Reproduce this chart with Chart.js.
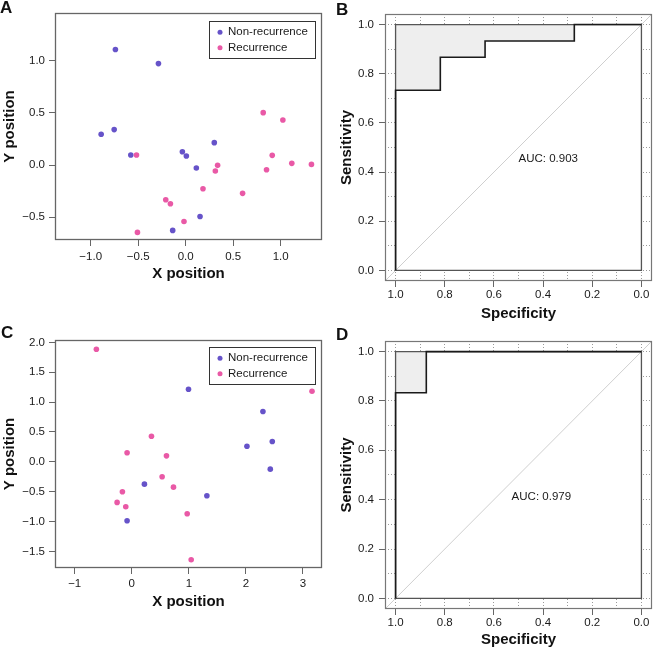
<!DOCTYPE html>
<html>
<head>
<meta charset="utf-8">
<script src="https://cdn.jsdelivr.net/npm/chart.js@4.4.1/dist/chart.umd.min.js"></script>
<style>
  body { margin: 0; background: #fff; }
  #wrap { position: relative; width: 653px; height: 649px; overflow: hidden; font-family: "Liberation Sans", Arial, sans-serif; }
  canvas { position: absolute; }
  .tag { position: absolute; font-weight: bold; font-size: 17px; line-height: 1; color: #111; }
</style>
</head>
<body>
<div id="wrap">
  <canvas id="chartA" width="330" height="325" style="left:0;top:0"></canvas>
  <canvas id="chartB" width="323" height="325" style="left:330px;top:0"></canvas>
  <canvas id="chartC" width="330" height="324" style="left:0;top:325px"></canvas>
  <canvas id="chartD" width="323" height="324" style="left:330px;top:325px"></canvas>
  <div class="tag" style="left:0;top:-1px">A</div>
  <div class="tag" style="left:336px;top:1px">B</div>
  <div class="tag" style="left:1px;top:324px">C</div>
  <div class="tag" style="left:336px;top:326px">D</div>
</div>
<script>
// panel A - MDS positions, training set
const aNonX = [-0.74, -0.287, -0.89, -0.753, -0.578, -0.035, 0.007, 0.112, 0.301, 0.151, -0.137];
const aNonY = [1.109, 0.974, 0.295, 0.34, 0.096, 0.128, 0.087, -0.029, 0.215, -0.494, -0.628];
const aRecX = [-0.518, 0.816, 1.023, 0.911, 1.117, 1.324, 0.851, 0.336, 0.312, 0.182, 0.599, -0.21, -0.161, -0.018, -0.508];
const aRecY = [0.096, 0.503, 0.433, 0.093, 0.016, 0.006, -0.045, -0.003, -0.058, -0.228, -0.272, -0.333, -0.372, -0.542, -0.647];

// panel C - MDS positions, validation set
const cNonX = [0.994, 2.298, 2.018, 2.462, 2.427, 0.222, 1.316, -0.082];
const cNonY = [1.216, 0.842, 0.262, 0.34, -0.123, -0.374, -0.569, -0.987];
const cRecX = [-0.62, 3.158, 0.345, -0.082, 0.608, 0.532, 0.731, -0.164, -0.257, -0.105, 0.971, 1.041];
const cRecY = [1.885, 1.182, 0.429, 0.151, 0.1, -0.251, -0.424, -0.502, -0.68, -0.753, -0.87, -1.64];

// ROC curves (specificity / sensitivity corners)
const bSpec = [1, 1, 0.818, 0.818, 0.636, 0.636, 0.273, 0.273, 0];
const bSens = [0, 0.733, 0.733, 0.867, 0.867, 0.933, 0.933, 1, 1];
const dSpec = [1, 1, 0.875, 0.875, 0];
const dSens = [0, 0.833, 0.833, 1, 1];
const aucB = 0.903;
const aucD = 0.979;

const groups = ["Non-recurrence", "Recurrence"];
const rocTicks = [0, 0.2, 0.4, 0.6, 0.8, 1];

const squareSpec = [1, 1, 0, 0, 1];
const squareSens = [0, 1, 1, 0, 0];
const rocMin = -0.043, rocMax = 1.043;

const blue = "#6653c9";
const pink = "#e959a6";

Chart.defaults.font.family = '"Liberation Sans", Arial, Helvetica, sans-serif';
Chart.defaults.font.size = 11.5;
Chart.defaults.color = "#1a1a1a";
Chart.defaults.animation = false;

const pts = (xs, ys) => xs.map((x, i) => ({ x, y: ys[i] }));
const minus = s => s.replace("-", "\u2212");
const fmt1 = v => minus((Math.abs(v) < 1e-9 ? 0 : v).toFixed(1));
const fmt0 = v => minus(String(Math.round(v)));

const frame = {
    id: "frame",
    afterDatasetsDraw(chart, args, opts) {
        const { left, top, right, bottom } = chart.chartArea;
        const ctx = chart.ctx;
        ctx.save();
        ctx.strokeStyle = opts.color;
        ctx.lineWidth = opts.width;
        ctx.strokeRect(left + 0.5, top + 0.5, right - left - 1, bottom - top - 1);
        ctx.restore();
    },
};

const boxLegend = {
    id: "boxLegend",
    afterDraw(chart, args, opts) {
        if (!opts.show) return;
        const ctx = chart.ctx;
        const { right, top } = chart.chartArea;
        const w = 106, h = 37;
        const x0 = right - 7 - w, y0 = top + opts.offset;
        ctx.save();
        ctx.fillStyle = "#fff";
        ctx.fillRect(x0, y0, w, h);
        ctx.strokeStyle = "#333";
        ctx.lineWidth = 1;
        ctx.strokeRect(x0 + 0.5, y0 + 0.5, w, h);
        ctx.font = '11.5px "Liberation Sans", Arial, sans-serif';
        ctx.textBaseline = "middle";
        groups.forEach((g, i) => {
            const ds = chart.data.datasets.find(d => d.label === g);
            const cy = y0 + 11.3 + i * 15.4;
            ctx.fillStyle = ds.backgroundColor;
            ctx.beginPath();
            ctx.arc(x0 + 11, cy, 2.5, 0, Math.PI * 2);
            ctx.fill();
            ctx.fillStyle = "#1a1a1a";
            ctx.fillText(g, x0 + 19, cy);
        });
        ctx.restore();
    },
};

const aucLabel = {
    id: "aucLabel",
    afterDatasetsDraw(chart, args, opts) {
        if (!opts.text) return;
        const ctx = chart.ctx;
        const { x, y } = chart.scales;
        ctx.save();
        ctx.font = '11.5px "Liberation Sans", Arial, sans-serif';
        ctx.fillStyle = "#1a1a1a";
        ctx.textBaseline = "middle";
        ctx.fillText(opts.text, x.getPixelForValue(opts.at[0]), y.getPixelForValue(opts.at[1]));
        ctx.restore();
    },
};

function layoutFor(size, area, xAxisH) {
    return {
        padding: {
            left: 0,
            top: area.t,
            right: size[0] - area.r,
            bottom: size[1] - area.b - xAxisH,
        },
    };
}

function axisTitle(text, pad) {
    return {
        display: true,
        text,
        color: "#111",
        font: { size: 15, weight: "bold" },
        padding: { top: pad, bottom: 0 },
    };
}

function scatterPanel(id, size, area, xAxisH, opt) {
    new Chart(document.getElementById(id), {
        type: "scatter",
        data: {
            datasets: [
                { label: groups[0], data: pts(opt.nonX, opt.nonY), backgroundColor: blue, pointRadius: 2.8, pointBorderWidth: 0, order: 1 },
                { label: groups[1], data: pts(opt.recX, opt.recY), backgroundColor: pink, pointRadius: 2.8, pointBorderWidth: 0, order: 0 },
            ],
        },
        options: {
            responsive: false,
            events: [],
            layout: layoutFor(size, area, xAxisH),
            plugins: {
                legend: { display: false },
                tooltip: { enabled: false },
                frame: { color: "#666", width: 1.3 },
                boxLegend: { show: true, offset: opt.legendOffset },
            },
            scales: {
                x: {
                    min: opt.xLim[0], max: opt.xLim[1],
                    afterFit: s => { s.height = xAxisH; },
                    border: { display: false },
                    grid: { drawOnChartArea: false, tickLength: 6, tickColor: "#666", tickWidth: 1 },
                    ticks: { stepSize: opt.xStep, includeBounds: false, autoSkip: false, maxRotation: 0, padding: opt.xPad, callback: opt.xFmt },
                    title: axisTitle("X position", 0),
                },
                y: {
                    min: opt.yLim[0], max: opt.yLim[1],
                    afterFit: s => { s.width = area.l; },
                    border: { display: false },
                    grid: { drawOnChartArea: false, tickLength: 6, tickColor: "#666", tickWidth: 1 },
                    ticks: { stepSize: opt.yStep, includeBounds: false, autoSkip: false, padding: 4, callback: fmt1 },
                    title: axisTitle("Y position", 1),
                },
            },
        },
        plugins: [frame, boxLegend],
    });
}

function rocPanel(id, size, area, xAxisH, spec, sens, auc, aucAt, xPad) {
    const roc = pts(spec, sens);
    const square = pts(squareSpec, squareSens);
    const isMajor = v => rocTicks.some(t => Math.abs(t - v) < 1e-6);
    // dotted grid every 0.1, tick marks only on labelled values
    const gridOpts = {
        drawOnChartArea: true,
        color: "#9a9a9a",
        lineWidth: 1,
        tickLength: 6,
        tickWidth: 1,
        tickColor: ctx => (ctx.tick && isMajor(ctx.tick.value) ? "#666" : "rgba(0,0,0,0)"),
    };
    const borderOpts = { display: false, dash: [1, 2] };
    const tickFmt = v => (isMajor(v) ? fmt1(v) : "");
    new Chart(document.getElementById(id), {
        type: "scatter",
        data: {
            datasets: [
                { label: "ROC", data: roc, showLine: true, borderColor: "#1a1a1a", borderWidth: 1.6, pointRadius: 0, fill: false },
                { label: "edge", data: square, showLine: true, borderColor: "#555", borderWidth: 1.3, pointRadius: 0, fill: false },
                { label: "chance", data: pts([rocMax, rocMin], [1 - rocMax, 1 - rocMin]), showLine: true, borderColor: "#cfcfcf", borderWidth: 1, pointRadius: 0, fill: false },
                { label: "shade", data: roc, showLine: true, borderColor: "rgba(0,0,0,0)", pointRadius: 0, fill: { value: 1 }, backgroundColor: "#eeeeee" },
                { label: "plate", data: square, showLine: true, borderColor: "rgba(0,0,0,0)", pointRadius: 0, fill: "shape", backgroundColor: "#ffffff" },
            ],
        },
        options: {
            responsive: false,
            events: [],
            layout: layoutFor(size, area, xAxisH),
            plugins: {
                legend: { display: false },
                tooltip: { enabled: false },
                frame: { color: "#777", width: 1.2 },
                aucLabel: { text: "AUC: " + auc.toFixed(3), at: aucAt },
            },
            scales: {
                x: {
                    reverse: true,
                    min: rocMin, max: rocMax,
                    afterFit: s => { s.height = xAxisH; },
                    border: borderOpts,
                    grid: gridOpts,
                    ticks: { stepSize: 0.1, includeBounds: false, autoSkip: false, maxRotation: 0, padding: xPad, callback: tickFmt },
                    title: axisTitle("Specificity", 0),
                },
                y: {
                    min: rocMin, max: rocMax,
                    afterFit: s => { s.width = area.l; },
                    border: borderOpts,
                    grid: gridOpts,
                    ticks: { stepSize: 0.1, includeBounds: false, autoSkip: false, padding: 5, callback: tickFmt },
                    title: axisTitle("Sensitivity", 8),
                },
            },
        },
        plugins: [frame, aucLabel],
    });
}

scatterPanel("chartA", [330, 325], { l: 55, t: 13, r: 322, b: 240 }, 43, {
    nonX: aNonX, nonY: aNonY, recX: aRecX, recY: aRecY,
    xLim: [-1.376, 1.435], yLim: [-0.72, 1.46], xStep: 0.5, yStep: 0.5,
    xFmt: fmt1, xPad: 4, legendOffset: 8,
});

scatterPanel("chartC", [330, 324], { l: 55, t: 15, r: 322, b: 243 }, 43, {
    nonX: cNonX, nonY: cNonY, recX: cRecX, recY: cRecY,
    xLim: [-1.345, 3.333], yLim: [-1.779, 2.041], xStep: 1, yStep: 0.5,
    xFmt: fmt0, xPad: 3, legendOffset: 7,
});

rocPanel("chartB", [323, 325], { l: 55, t: 14, r: 322, b: 281 }, 42, bSpec, bSens, aucB, [0.5, 0.453], 1);
rocPanel("chartD", [323, 324], { l: 55, t: 16, r: 322, b: 284 }, 40, dSpec, dSens, aucD, [0.528, 0.412], 1);
</script>
</body>
</html>
